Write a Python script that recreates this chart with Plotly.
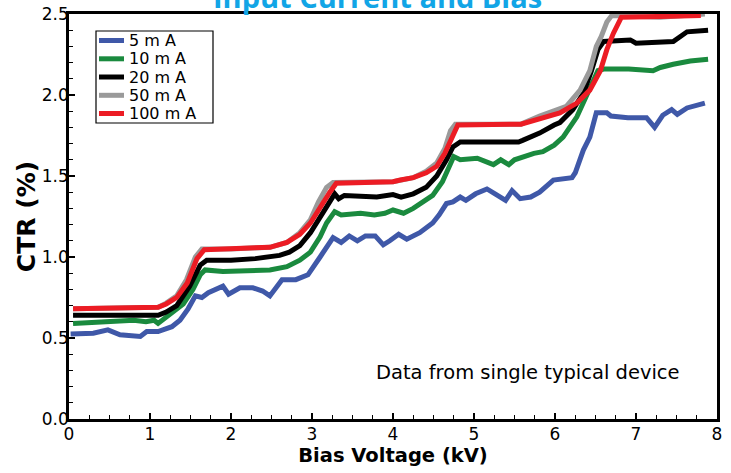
import plotly.graph_objects as go

# ---- data ----
series_names = ["5 m A", "10 m A", "20 m A", "50 m A", "100 m A"]

x_5mA = [0.02, 0.3, 0.48, 0.63, 0.88, 0.96, 1.1, 1.27, 1.37, 1.47, 1.56, 1.64, 1.72, 1.80, 1.90, 1.97,
         2.11, 2.27, 2.39, 2.48, 2.63, 2.80, 2.95, 3.10, 3.26, 3.36, 3.46, 3.56, 3.66, 3.78, 3.88, 3.96,
         4.07, 4.17, 4.33, 4.49, 4.57, 4.66, 4.74, 4.83, 4.90, 5.02, 5.16, 5.26, 5.39, 5.47, 5.57, 5.70,
         5.81, 5.98, 6.21, 6.25, 6.35, 6.43, 6.51, 6.64, 6.69, 6.90, 7.13, 7.23, 7.33, 7.44, 7.51, 7.63,
         7.75, 7.85]
y_5mA = [0.525, 0.53, 0.55, 0.52, 0.51, 0.54, 0.54, 0.57, 0.61, 0.68, 0.76, 0.75, 0.78, 0.80, 0.82, 0.77,
         0.81, 0.81, 0.79, 0.76, 0.86, 0.86, 0.89, 1.0, 1.12, 1.09, 1.13, 1.10, 1.13, 1.13, 1.075, 1.10,
         1.14, 1.11, 1.15, 1.21, 1.26, 1.33, 1.34, 1.37, 1.35, 1.39, 1.42, 1.39, 1.35, 1.41, 1.36, 1.37,
         1.40, 1.475, 1.49, 1.52, 1.66, 1.74, 1.89, 1.89, 1.87, 1.86, 1.86, 1.80, 1.875, 1.91, 1.88, 1.92,
         1.935, 1.95]

x_10mA = [0.05, 0.5, 0.8, 0.95, 1.05, 1.10, 1.21, 1.41, 1.53, 1.62, 1.68, 1.9, 2.2, 2.48, 2.69, 2.85,
          2.98, 3.10, 3.18, 3.28, 3.36, 3.6, 3.77, 3.90, 4.0, 4.13, 4.25, 4.35, 4.49, 4.61, 4.69, 4.75,
          4.83, 5.04, 5.24, 5.33, 5.43, 5.50, 5.74, 5.85, 5.99, 6.10, 6.27, 6.39, 6.47, 6.53, 6.6, 6.91,
          7.21, 7.30, 7.46, 7.67, 7.89]
y_10mA = [0.59, 0.60, 0.61, 0.60, 0.61, 0.59, 0.63, 0.71, 0.80, 0.89, 0.92, 0.91, 0.915, 0.92, 0.94, 0.98,
          1.03, 1.125, 1.21, 1.28, 1.26, 1.27, 1.26, 1.27, 1.29, 1.27, 1.30, 1.33, 1.38, 1.465, 1.55, 1.62,
          1.60, 1.61, 1.57, 1.60, 1.57, 1.60, 1.64, 1.65, 1.69, 1.74, 1.865, 1.99, 2.09, 2.15, 2.16, 2.16,
          2.15, 2.17, 2.19, 2.21, 2.22]

x_20mA = [0.05, 1.1, 1.2, 1.33, 1.49, 1.62, 1.70, 2.0, 2.3, 2.6, 2.72, 2.85, 2.98, 3.10, 3.22, 3.28,
          3.33, 3.4, 3.8, 4.0, 4.1, 4.25, 4.41, 4.54, 4.66, 4.74, 4.83, 5.55, 5.60, 5.81, 5.99, 6.06,
          6.22, 6.35, 6.45, 6.53, 6.60, 6.93, 7.0, 7.46, 7.63, 7.89]
y_20mA = [0.64, 0.64, 0.66, 0.70, 0.82, 0.95, 0.98, 0.98, 0.99, 1.01, 1.03, 1.07, 1.15, 1.25, 1.35, 1.39,
          1.36, 1.38, 1.37, 1.385, 1.37, 1.39, 1.43, 1.50, 1.60, 1.68, 1.71, 1.71, 1.72, 1.765, 1.815, 1.83,
          1.91, 2.01, 2.15, 2.28, 2.33, 2.34, 2.32, 2.33, 2.39, 2.40]

x_50mA = [0.05, 1.1, 1.2, 1.33, 1.45, 1.56, 1.64, 2.0, 2.48, 2.69, 2.85, 2.98, 3.08, 3.18, 3.26, 4.0,
          4.25, 4.41, 4.54, 4.64, 4.71, 4.77, 5.58, 5.81, 6.14, 6.31, 6.43, 6.51, 6.57, 6.64, 6.70, 7.3,
          7.85]
y_50mA = [0.68, 0.69, 0.715, 0.76, 0.86, 1.0, 1.05, 1.05, 1.06, 1.09, 1.15, 1.23, 1.34, 1.43, 1.46, 1.465,
          1.49, 1.53, 1.58, 1.67, 1.78, 1.82, 1.82, 1.87, 1.93, 2.03, 2.15, 2.30, 2.36, 2.45, 2.49, 2.48,
          2.5]

x_100mA = [0.05, 1.1, 1.2, 1.33, 1.46, 1.58, 1.67, 2.0, 2.48, 2.69, 2.85, 2.98, 3.10, 3.22, 3.30, 4.0,
           4.09, 4.25, 4.41, 4.54, 4.64, 4.73, 4.80, 5.58, 5.81, 6.06, 6.27, 6.43, 6.56, 6.64, 6.72, 6.82,
           7.3, 7.8]
y_100mA = [0.68, 0.69, 0.71, 0.75, 0.84, 0.99, 1.045, 1.05, 1.06, 1.09, 1.14, 1.21, 1.31, 1.40, 1.455, 1.465,
           1.475, 1.49, 1.52, 1.56, 1.64, 1.73, 1.815, 1.82, 1.85, 1.89, 1.95, 2.03, 2.15, 2.28, 2.38, 2.48,
           2.485, 2.49]

xs = [x_5mA, x_10mA, x_20mA, x_50mA, x_100mA]
ys = [y_5mA, y_10mA, y_20mA, y_50mA, y_100mA]
colors = ["#3f58a8", "#1a8a3e", "#000000", "#9a9a9a", "#ec1c24"]

title_text = "Input Current and Bias"
note_text = "Data from single typical device"

# ---- layout constants (pixels) ----
W, H = 731, 473
L, R, T, B = 69, 14, 14, 54
PW, PH = W - L - R, H - T - B


def px_x(p):
    return (p - L) / PW


def px_y(p):
    return (H - B - p) / PH


fig = go.Figure()
for name, x, y, c in zip(series_names, xs, ys, colors):
    fig.add_trace(go.Scatter(x=x, y=y, mode="lines", name=name, showlegend=False,
                             line=dict(color=c, width=5)))

fig.update_layout(
    width=W, height=H,
    margin=dict(l=L, r=R, t=T, b=B, autoexpand=False),
    paper_bgcolor="white", plot_bgcolor="white",
    showlegend=False,
    font=dict(family="DejaVu Sans", color="black"),
)

axis_common = dict(showline=True, linecolor="black", linewidth=2.5, mirror=True,
                   ticks="inside", tickcolor="black", tickwidth=1.5, ticklen=6,
                   showgrid=False, zeroline=False,
                   tickfont=dict(family="DejaVu Sans", size=17, color="black"))

fig.update_xaxes(range=[0, 8], dtick=1, tick0=0, ticklabelstandoff=-2,
                 minor=dict(dtick=0.25, ticks="inside", ticklen=4, tickcolor="black", tickwidth=1.2),
                 title=dict(text="Bias Voltage (kV)", standoff=3,
                            font=dict(family="DejaVu Sans", size=19.5, color="black", weight="bold")),
                 **axis_common)
fig.update_yaxes(range=[0, 2.5], dtick=0.5, tick0=0, tickformat=".1f", ticklabelstandoff=-6,
                 minor=dict(dtick=0.1, ticks="inside", ticklen=4, tickcolor="black", tickwidth=1.2),
                 title=dict(text="CTR (%)", standoff=0,
                            font=dict(family="DejaVu Sans", size=25, color="black", weight="bold")),
                 **axis_common)

# title, cut off at the top edge as in the reference
fig.add_annotation(text="<b>" + title_text + "</b>", xref="paper", yref="paper",
                   x=px_x(377), y=px_y(-3.5), xanchor="center", yanchor="middle", showarrow=False,
                   font=dict(family="Open Sans", size=29, color="#12a5e6"))
fig.add_annotation(text=note_text, xref="x", yref="y",
                   x=5.67, y=0.285, xanchor="center", yanchor="middle", showarrow=False,
                   font=dict(family="DejaVu Sans", size=19.5, color="black"))

# legend box with line keys
fig.add_shape(type="rect", xref="paper", yref="paper",
              x0=px_x(96), x1=px_x(213), y0=px_y(123), y1=px_y(31),
              line=dict(color="black", width=1.2), fillcolor="white", layer="above")
row_y = [40.5, 58.8, 77.0, 95.3, 113.5]
for name, c, ry in zip(series_names, colors, row_y):
    fig.add_shape(type="line", xref="paper", yref="paper",
                  x0=px_x(99), x1=px_x(124), y0=px_y(ry), y1=px_y(ry),
                  line=dict(color=c, width=5), layer="above")
    fig.add_annotation(text=name, xref="paper", yref="paper",
                       x=px_x(127), y=px_y(ry), xanchor="left", yanchor="middle", showarrow=False,
                       font=dict(family="DejaVu Sans", size=16, color="black"))

fig.write_html("out.html", config={"displayModeBar": False},
               post_script="document.body.style.margin='0px';")
